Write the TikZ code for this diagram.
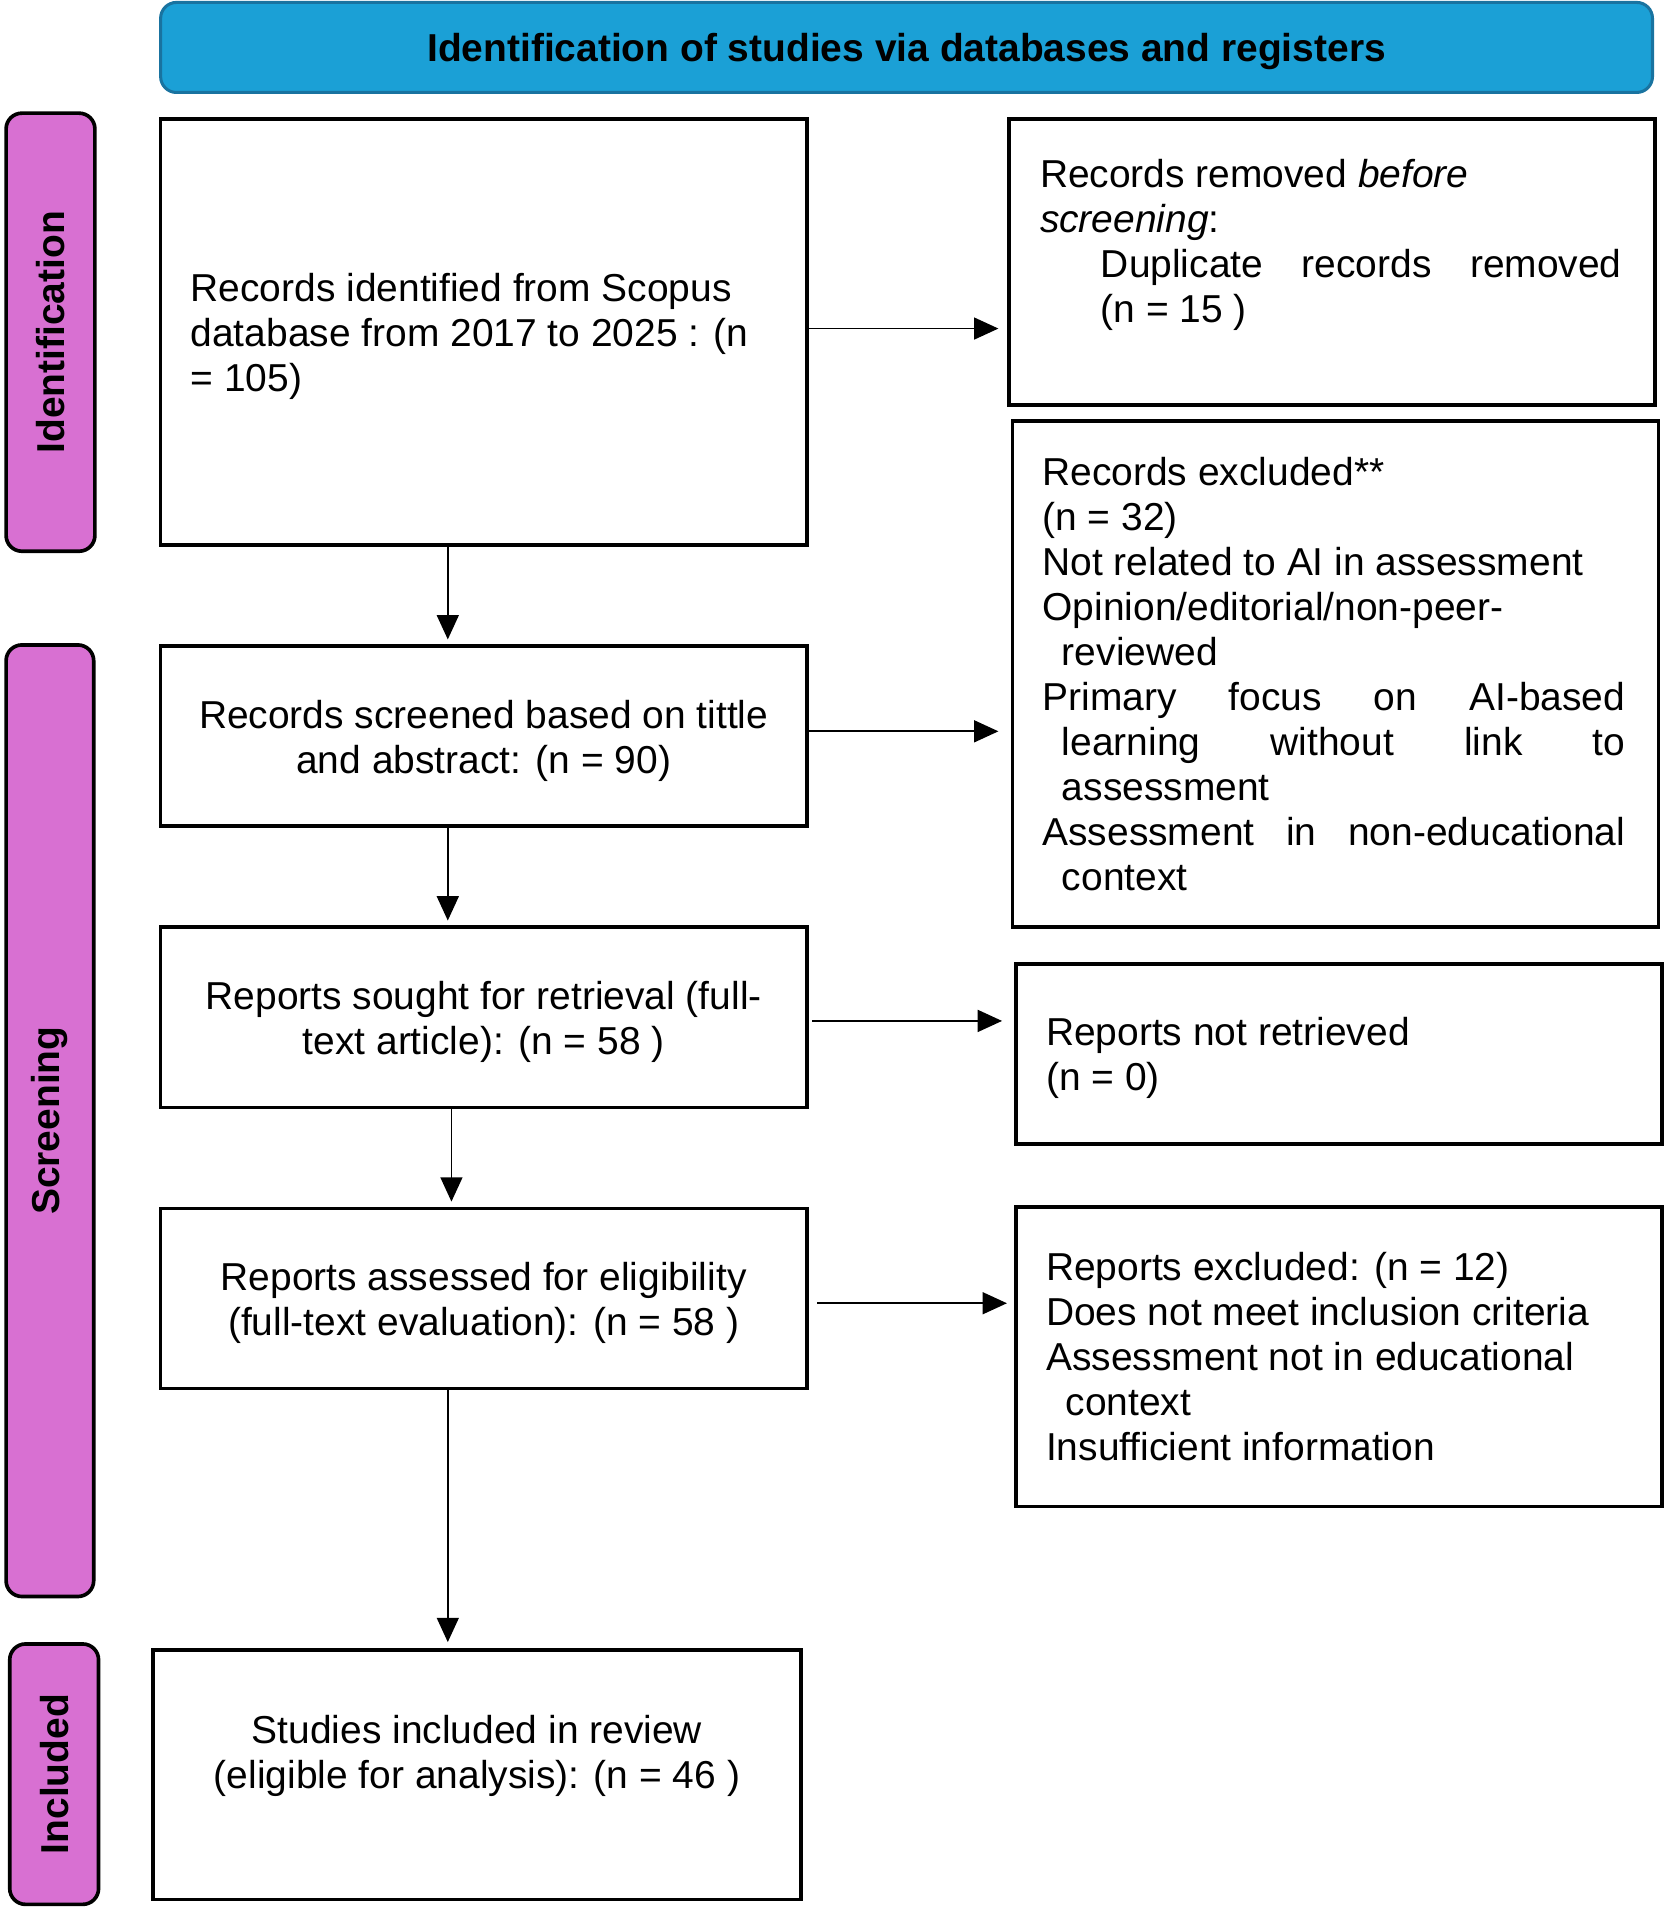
\documentclass[tikz,border=0pt]{standalone}
\usepackage{fontspec}
\setmainfont{Liberation Sans}
\usetikzlibrary{arrows.meta}
\definecolor{hdrblue}{RGB}{27,160,214}
\definecolor{hdrline}{RGB}{25,115,160}
\definecolor{stagepink}{RGB}{216,112,210}
\tikzset{
  box/.style={draw=black, line width=3pt, fill=white, inner sep=0pt},
  txt/.style={inner sep=0pt, font=\fontsize{32pt}{37pt}\selectfont},
  stage/.style={draw=black, line width=3pt, fill=stagepink, rounded corners=13pt, rotate=90, inner sep=0pt,
    font=\fontsize{32pt}{37pt}\selectfont\bfseries},
  arr/.style={draw=black, line width=1.5pt, -{Triangle[length=20pt,width=18pt]}}
}
\begin{document}
\begin{tikzpicture}[x=1pt,y=-1pt]
\useasboundingbox (0,0) rectangle (1368,1568);
% header
\node[draw=hdrline, line width=2.5pt, fill=hdrblue, rounded corners=13pt, minimum width=1226pt, minimum height=74pt,
  inner sep=0pt] (hdr) at (745,39) {};
\node[txt, font=\fontsize{32pt}{37pt}\selectfont\bfseries] (thdr) at ([yshift=-3.5pt]hdr.center)
  {Identification of studies via databases and registers};
% stage labels
\node[stage, minimum width=360pt, minimum height=73pt] (sid) at (41.5,273) {Identification};
\node[stage, minimum width=782pt, minimum height=72pt] (ssc) at (41,921) {Screening};
\node[stage, minimum width=214pt, minimum height=73pt] (sin) at (44.5,1458) {Included};
% left column boxes
\node[box, minimum width=531pt, minimum height=350pt] (b1) at (397.5,273) {};
\node[txt, anchor=west, align=left] (t1) at ([xshift=26pt,yshift=-3.5pt]b1.west)
  {Records identified from Scopus\\database from 2017 to 2025 : (n\\= 105)};
\node[box, minimum width=531pt, minimum height=148pt] (b2) at (397.5,605) {};
\node[txt, align=center] (t2) at ([yshift=-3.5pt]b2.center)
  {Records screened based on tittle\\and abstract: (n = 90)};
\node[box, minimum width=531pt, minimum height=148pt] (b3) at (397.5,836) {};
\node[txt, align=center] (t3) at ([yshift=-3.5pt]b3.center)
  {Reports sought for retrieval (full-\\text article): (n = 58 )};
\node[box, minimum width=531pt, minimum height=148pt] (b4) at (397.5,1067) {};
\node[txt, align=center] (t4) at ([yshift=-3.5pt]b4.center)
  {Reports assessed for eligibility\\(full-text evaluation): (n = 58 )};
\node[box, minimum width=532pt, minimum height=205pt] (b5) at (392,1458.5) {};
\node[txt, align=center] (t5) at ([yshift=15.5pt]b5.center)
  {Studies included in review\\(eligible for analysis): (n = 46 )};
% right column boxes
\node[box, minimum width=531pt, minimum height=235pt] (r1) at (1094.5,215.5) {};
\node[txt, anchor=west, align=left] (tr1) at ([xshift=27pt,yshift=14.5pt]r1.west)
  {Records removed \textit{before}\\\textit{screening}:\\\hspace*{50pt}\makebox[428pt][s]{Duplicate records removed}\\\hspace*{50pt}(n = 15 )};
\node[box, minimum width=531pt, minimum height=416pt] (r2) at (1097.5,554) {};
\node[txt, anchor=west, align=left] (tr2) at ([xshift=26pt]r2.west)
  {Records excluded**\\(n = 32)\\Not related to AI in assessment\\Opinion/editorial/non-peer-\\\hspace*{16pt}reviewed\\
   \makebox[479pt][s]{Primary focus on AI-based}\\\hspace*{16pt}\makebox[463pt][s]{learning without link to}\\
   \hspace*{16pt}assessment\\\makebox[479pt][s]{Assessment in non-educational}\\\hspace*{16pt}context};
\node[box, minimum width=531pt, minimum height=148pt] (r3) at (1100.5,866) {};
\node[txt, anchor=west, align=left] (tr3) at ([xshift=26pt,yshift=-3.5pt]r3.west)
  {Reports not retrieved\\(n = 0)};
\node[box, minimum width=531pt, minimum height=246pt] (r4) at (1100.5,1115) {};
\node[txt, anchor=west, align=left] (tr4) at ([xshift=26pt]r4.west)
  {Reports excluded: (n = 12)\\Does not meet inclusion criteria\\Assessment not in educational\\\hspace*{16pt}context\\Insufficient information};
% horizontal arrows
\draw[arr, shorten >=7pt] ([yshift=3pt]b1.east) -- ([yshift=3pt]b1.east -| r1.west);
\draw[arr, shorten >=10pt] ([yshift=4pt]b2.east) -- ([yshift=4pt]b2.east -| r2.west);
\draw[arr, shorten >=10pt] ([xshift=3pt,yshift=-3pt]b3.east) -- ([yshift=-3pt]b3.east -| r3.west);
\draw[arr, shorten >=6pt] ([xshift=7pt,yshift=-4pt]b4.east) -- ([yshift=-4pt]b4.east -| r4.west);
% vertical arrows
\draw[arr, shorten >=4pt] ([xshift=-29.5pt]b1.south) -- ([xshift=-29.5pt]b2.north);
\draw[arr, shorten >=4pt] ([xshift=-29.5pt]b2.south) -- ([xshift=-29.5pt]b3.north);
\draw[arr, shorten >=4pt] ([xshift=-26.5pt]b3.south) -- ([xshift=-26.5pt]b4.north);
\draw[arr, shorten >=5pt] ([xshift=-29.5pt]b4.south) -- ([xshift=-24pt]b5.north);
\end{tikzpicture}
\end{document}
